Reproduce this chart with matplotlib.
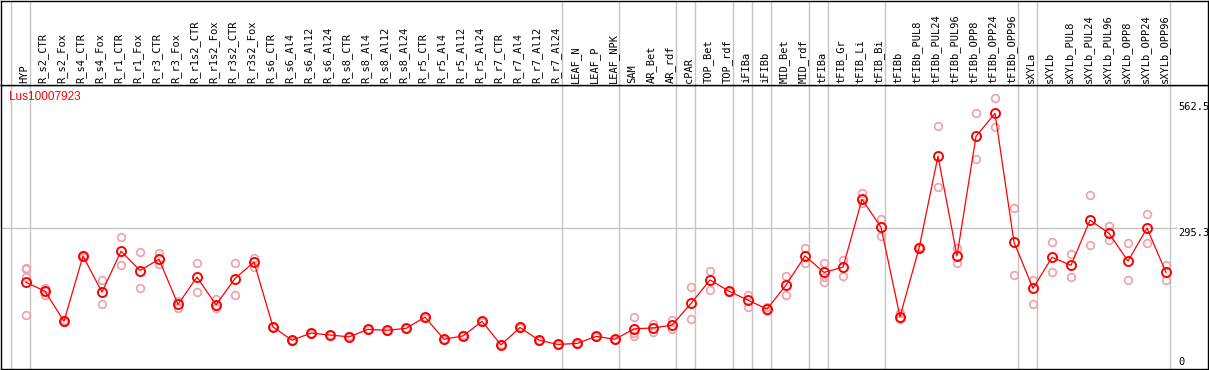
import numpy as np
import matplotlib
matplotlib.use("Agg")
import matplotlib.pyplot as plt

# categories (samples)
samples = ["HYP", "R_s2_CTR", "R_s2_Fox", "R_s4_CTR", "R_s4_Fox", "R_r1_CTR", "R_r1_Fox",
           "R_r3_CTR", "R_r3_Fox", "R_r1s2_CTR", "R_r1s2_Fox", "R_r3s2_CTR", "R_r3s2_Fox",
           "R_s6_CTR", "R_s6_Al4", "R_s6_Al12", "R_s6_Al24", "R_s8_CTR", "R_s8_Al4",
           "R_s8_Al12", "R_s8_Al24", "R_r5_CTR", "R_r5_Al4", "R_r5_Al12", "R_r5_Al24",
           "R_r7_CTR", "R_r7_Al4", "R_r7_Al12", "R_r7_Al24", "LEAF_N", "LEAF_P", "LEAF_NPK",
           "SAM", "AR_Bet", "AR_rdf", "cPAR", "TOP_Bet", "TOP_rdf", "iFIBa", "iFIBb",
           "MID_Bet", "MID_rdf", "tFIBa", "tFIB_Gr", "tFIB_Li", "tFIB_Bi", "tFIBb",
           "tFIBb_PUL8", "tFIBb_PUL24", "tFIBb_PUL96", "tFIBb_OPP8", "tFIBb_OPP24",
           "tFIBb_OPP96", "sXYLa", "sXYLb", "sXYLb_PUL8", "sXYLb_PUL24", "sXYLb_PUL96",
           "sXYLb_OPP8", "sXYLb_OPP24", "sXYLb_OPP96"]

# mean expression per sample
means = [180, 161, 97, 236, 159, 246, 205, 229, 133, 191, 132, 188, 223,
         85, 57, 72, 68, 64, 80, 78, 82, 106, 59, 66, 97, 47, 84, 57, 48,
         50, 65, 59, 81, 83, 89, 135, 185, 161, 142, 123, 174, 236, 201, 212,
         356, 297, 107, 252, 448, 236, 490, 539, 265, 167, 233, 216, 312, 284,
         225, 295, 201]

# replicate values per sample
reps = [[210, 208, 192, 110], [167, 161, 152], [99, 95], [238, 234], [185, 133],
        [276, 216], [244, 167], [242, 218], [140, 125], [222, 159], [144, 125],
        [222, 154], [231, 212], [86, 84], [58, 56], [73, 71], [69, 67], [65, 63],
        [81, 79], [79, 77], [83, 81], [107, 105], [60, 58], [67, 65], [98, 96],
        [48, 46], [85, 83], [58, 56], [49, 47], [51, 49], [66, 64], [60, 58],
        [106, 72, 66], [91, 74], [99, 81], [169, 103], [204, 164], [162, 160],
        [154, 128], [128, 119], [193, 154], [252, 222], [222, 192, 181], [227, 193],
        [370, 349], [314, 278], [114, 101], [254, 250], [513, 382], [252, 220],
        [539, 441], [571, 510], [337, 195], [185, 134], [265, 201], [240, 191],
        [365, 259], [300, 269], [263, 185], [324, 263], [217, 184]]

# last sample index of each group (grey separators)
group_ends = [-1, 0, 28, 31, 34, 35, 37, 38, 39, 41, 42, 45, 52, 53, 60]

gene = "Lus10007923"
y_ticks = [562.5, 295.3, 0]

W, H = 1209, 370
header = 85
x0, step = 26, 19           # pixel of first sample, spacing
y0, scale = 367, 0.4707     # pixel of value 0, px per unit

fig = plt.figure(figsize=(W / 100, H / 100), dpi=100)
ax = fig.add_axes([1 / W, 1 / H, (1208 - 1) / W, (369 - header) / H])
hx = fig.add_axes([1 / W, (H - header) / H, (1208 - 1) / W, (header - 0.5) / H])

xlim = ((1 - x0) / step, (1208 - x0) / step)
for a in (ax, hx):
    a.set_xlim(xlim)
    a.set_xticks([])
    a.set_yticks([])
    for s in a.spines.values():
        s.set_linewidth(1.0)
        s.set_color("black")
    for g in group_ends:
        a.axvline(g + 0.21, color="#c4c4c4", lw=1.0, zorder=0)

ax.set_ylim((y0 - 369) / scale, (y0 - header) / scale)
hx.set_ylim(0, 1)

x = np.arange(len(samples))

# grid line
ax.hlines(y_ticks[1], xlim[0], (1177 - x0) / step, color="#c4c4c4", lw=1.0, zorder=0)

# replicates
for i, r in enumerate(reps):
    ax.plot([i] * len(r), r, "o", ms=5.5, mfc="none", mec="#f0a0a8", mew=1.2, zorder=2)

# mean line
ax.plot(x, means, "-", color="red", lw=0.9, zorder=3)
ax.plot(x, means, "o", ms=6.5, mfc="none", mec="red", mew=1.4, zorder=4)

# header labels
for i, s in enumerate(samples):
    hx.text(i - 0.1, 2 / header, s, rotation=90, ha="center", va="bottom",
            fontsize=7.5, family="DejaVu Sans Mono", color="black")

# gene name
ax.text((9 - x0) / step, (y0 - 97) / scale, gene, color="red", fontsize=8.5,
        family="Liberation Sans", ha="left", va="center")

# right-hand value labels
tx = (1178 - x0) / step
ax.text(tx, y_ticks[0], "562.5", fontsize=7.5, family="DejaVu Sans Mono", ha="left", va="top")
ax.text(tx, y_ticks[1], "295.3", fontsize=7.5, family="DejaVu Sans Mono", ha="left", va="top")
ax.text(tx, y_ticks[2], "0", fontsize=7.5, family="DejaVu Sans Mono", ha="left", va="bottom")

fig.savefig("out.png", dpi=100)
